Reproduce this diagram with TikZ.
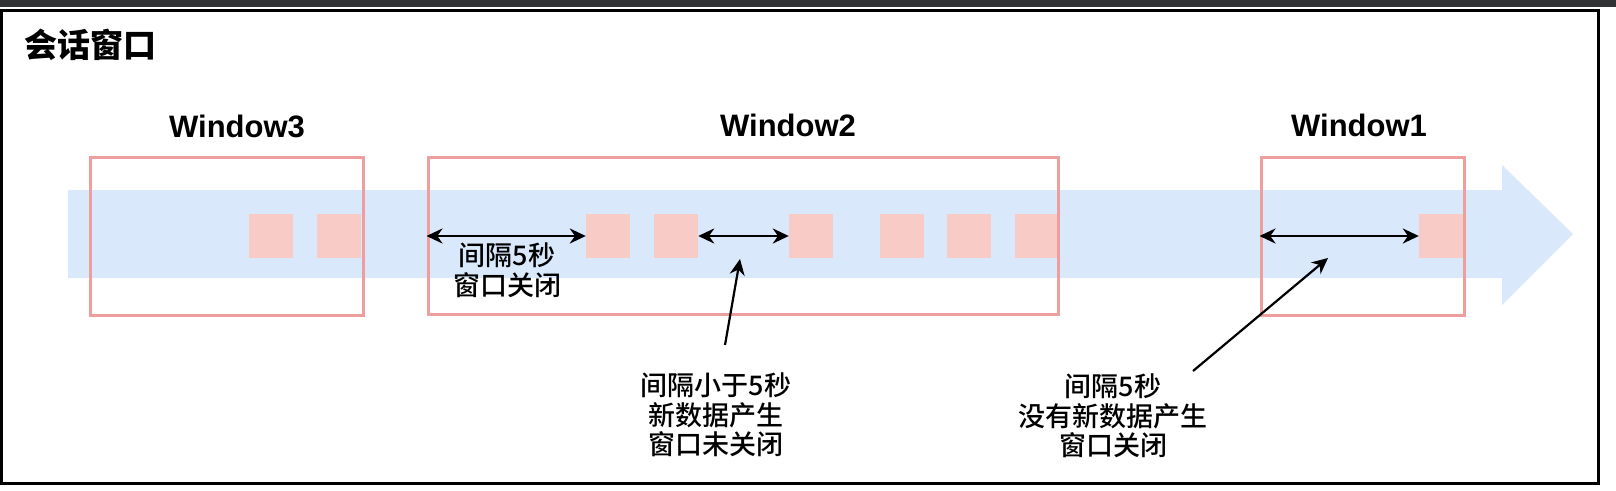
\documentclass[tikz,border=0pt]{standalone}
\usepackage{fontspec}
\setmainfont{Liberation Sans}
\newfontfamily\cjk{Noto Sans CJK SC}
\newfontfamily\cjkmid{Noto Sans CJK SC Medium}
\usetikzlibrary{arrows.meta}
\definecolor{bandblue}{HTML}{DAE8FC}
\definecolor{boxred}{HTML}{EE9E9C}
\definecolor{datared}{HTML}{F9CBC7}
\definecolor{stripgray}{HTML}{303234}
\tikzset{
  datum/.style={fill=datared, minimum size=44pt, inner sep=0pt},
  winbox/.style={draw=boxred, line width=3pt, inner sep=0pt},
  winlabel/.style={font=\fontsize{31}{36}\selectfont\bfseries},
  note/.style={align=center, font=\cjkmid\fontsize{27}{29.5}\selectfont},
  gap/.style={<->, line width=2.8pt},
  ptr/.style={->, line width=2.2pt},
  >={Stealth[length=16pt,width=15pt]}
}

\begin{document}
\begin{tikzpicture}[x=1pt, y=-1pt]
      \fill [white] (0, 0) rectangle (1616, 490);
      \useasboundingbox (0, 0) rectangle (1616, 490);
      \fill [stripgray] (0, 0) rectangle (1616, 7);
      \draw [line width=3pt] (1.5, 10) rectangle (1598.5, 483);
      \node [font=\cjk\bfseries\fontsize{33}{36}\selectfont] (title) at (90, 45) {会话窗口};

      % data stream
      \fill [bandblue] (68, 190) -- (1502, 190) -- (1502, 165) -- (1573, 234) -- (1502, 305) -- (1502, 278) -- (68, 278) -- cycle;
      \node [datum] (s1) at (271, 236) {};
      \node [datum] (s2) at (339, 236) {};
      \node [datum] (s3) at (608, 236) {};
      \node [datum] (s4) at (676, 236) {};
      \node [datum] (s5) at (811, 236) {};
      \node [datum] (s6) at (902, 236) {};
      \node [datum] (s7) at (969, 236) {};
      \node [datum] (s8) at (1037, 236) {};
      \node [datum] (s9) at (1441, 236) {};

      % windows
      \node [winbox, minimum width=273pt, minimum height=158pt] (w3) at (226.5, 236) {};
      \node [winbox, minimum width=630pt, minimum height=157pt] (w2) at (743, 235.5) {};
      \node [winbox, minimum width=203pt, minimum height=158pt] (w1) at (1362.5, 236) {};
      \node [winlabel] (l3) at (237, 126) {Window3};
      \node [winlabel] (l2) at (788, 125) {Window2};
      \node [winlabel] (l1) at (1359, 125) {Window1};

      \draw [gap] (w2.west |- s3) -- (s3.west);
      \draw [gap] (s4.east) -- (s5.west);
      \draw [gap] (w1.west |- s9) -- (s9.west);

      \node [note] (n1) at (507, 270) {间隔5秒\\窗口关闭};
      \node [note] (n2) at (716, 415) {间隔小于5秒\\新数据产生\\窗口未关闭};
      \node [note] (n3) at (1113, 416) {间隔5秒\\没有新数据产生\\窗口关闭};

      \coordinate (t2) at (725, 345);
      \coordinate (h2) at (740, 259);
      \coordinate (t3) at (1193, 371);
      \coordinate (h3) at (1328, 258);
      \draw [ptr] (t2) -- (h2);
      \draw [ptr] (t3) -- (h3);
\end{tikzpicture}
\end{document}
